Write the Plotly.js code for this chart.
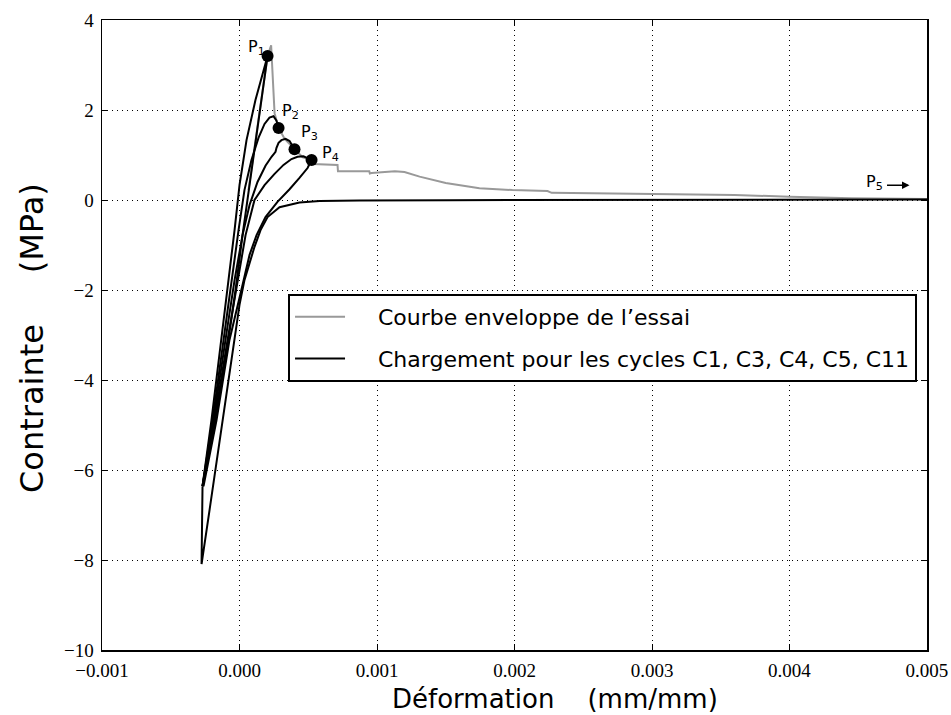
<!DOCTYPE html>
<html>
<head>
<meta charset="utf-8">
<script src="https://cdn.plot.ly/plotly-3.0.1.min.js"></script>
<style>html,body{margin:0;padding:0;background:#fff;}#chart{width:951px;height:715px;}</style>
</head>
<body>
<div id="chart"></div>
<script>
// Envelope curve of the test (grey)
const envX = [0.000065, 0.000116, 0.000160, 0.000204, 0.000230, 0.000255, 0.000284, 0.000330, 0.000400, 0.000460, 0.000524, 0.000535, 0.000713, 0.000716, 0.000944, 0.000948, 0.000960, 0.001130, 0.001200, 0.001310, 0.001500, 0.001745, 0.001985, 0.002240, 0.002270, 0.002960, 0.003200, 0.003600, 0.004000, 0.004450, 0.005000];
const envY = [0.22, 1.33, 2.22, 3.20, 3.44, 1.93, 1.60, 1.35, 1.13, 0.95, 0.89, 0.80, 0.78, 0.64, 0.64, 0.59, 0.60, 0.64, 0.62, 0.52, 0.38, 0.26, 0.22, 0.20, 0.16, 0.14, 0.13, 0.11, 0.075, 0.04, 0.02];

// Loading curves (black)
const c1X = [0.000204, 0.000160, 0.000116, 0.000065, 0.000022, -0.000029, -0.000102, -0.000189, -0.000269, -0.000204, -0.000131, -0.000080, -0.000036, 0.000000, 0.000051, 0.000116, 0.000204];
const c1Y = [3.20, 2.22, 1.33, 0.22, -0.78, -2.00, -3.56, -5.11, -6.36, -4.89, -3.11, -1.78, -0.67, 0.33, 1.33, 2.22, 3.20];

const c3X = [-0.000269, -0.000196, -0.000116, -0.000058, -0.000007, 0.000036, 0.000087, 0.000138, 0.000182, 0.000218, 0.000247, 0.000269, 0.000284];
const c3Y = [-6.36, -4.89, -3.11, -1.78, -0.67, 0.22, 0.89, 1.38, 1.69, 1.83, 1.86, 1.76, 1.60];

const c4X = [-0.000269, -0.000189, -0.000102, -0.000036, 0.000022, 0.000073, 0.000131, 0.000189, 0.000233, 0.000262, 0.000269, 0.000284, 0.000305, 0.000335, 0.000364, 0.000385, 0.000400];
const c4Y = [-6.36, -4.89, -3.11, -1.78, -0.78, -0.11, 0.40, 0.76, 0.96, 1.07, 1.16, 1.27, 1.33, 1.36, 1.31, 1.22, 1.13];

const c5X = [-0.000269, -0.000182, -0.000087, -0.000015, 0.000044, 0.000109, 0.000182, 0.000255, 0.000320, 0.000378, 0.000422, 0.000465, 0.000502, 0.000524, null,
             0.000524, 0.000495, 0.000436, 0.000364, 0.000276, 0.000189, 0.000124, 0.000073, 0.000022, -0.000073, -0.000167, -0.000262];
const c5Y = [-6.36, -4.89, -3.11, -1.78, -0.78, 0.00, 0.33, 0.58, 0.78, 0.91, 0.96, 0.97, 0.93, 0.89, null,
             0.89, 0.71, 0.49, 0.24, -0.04, -0.38, -0.78, -1.22, -1.89, -3.11, -4.89, -6.36];

const c11X = [-0.000269, -0.000276, -0.000218, -0.000160, -0.000102, -0.000044, 0.000000, 0.000036, 0.000073, 0.000109, 0.000153, 0.000204, 0.000291, 0.000436, 0.000582, 0.000873, 0.001527, 0.002980, 0.004070, 0.005000];
const c11Y = [-6.36, -8.09, -6.89, -5.67, -4.44, -3.22, -2.33, -1.78, -1.38, -1.04, -0.67, -0.38, -0.16, -0.056, -0.022, -0.009, -0.004, 0.0, 0.007, 0.011];

// Characteristic points P1..P4
const pX = [0.000204, 0.000284, 0.000400, 0.000524];
const pY = [3.20, 1.60, 1.13, 0.89];
const pLabels = ["P<sub>1</sub>", "P<sub>2</sub>", "P<sub>3</sub>", "P<sub>4</sub>", "P<sub>5</sub>"];
const pLabelX = [0.000124, 0.000368, 0.000506, 0.000660, 0.004618];
const pLabelY = [3.38, 1.96, 1.49, 1.04, 0.38];

// Axes ticks
const xTickVals = [-0.001, 0.000, 0.001, 0.002, 0.003, 0.004, 0.005];
const xTickText = ["\u22120.001", "0.000", "0.001", "0.002", "0.003", "0.004", "0.005"];
const yTickVals = [-10, -8, -6, -4, -2, 0, 2, 4];
const yTickText = ["\u221210", "\u22128", "\u22126", "\u22124", "\u22122", "0", "2", "4"];

const sp = "\u00a0\u00a0\u00a0\u00a0";
const blackLine = {color: "#000000", width: 2};
const traces = [
  {x: envX, y: envY, type: "scatter", mode: "lines", name: sp + "Courbe enveloppe de l\u2019essai",
   line: {color: "#999999", width: 2}},
  {x: c1X, y: c1Y, type: "scatter", mode: "lines", name: sp + "Chargement pour les cycles C1, C3, C4, C5, C11",
   line: blackLine, legendgroup: "c"},
  {x: c3X, y: c3Y, type: "scatter", mode: "lines", showlegend: false, line: blackLine, legendgroup: "c"},
  {x: c4X, y: c4Y, type: "scatter", mode: "lines", showlegend: false, line: blackLine, legendgroup: "c"},
  {x: c5X, y: c5Y, type: "scatter", mode: "lines", showlegend: false, line: blackLine, legendgroup: "c", connectgaps: false},
  {x: c11X, y: c11Y, type: "scatter", mode: "lines", showlegend: false, line: blackLine, legendgroup: "c"},
  {x: pX, y: pY, type: "scatter", mode: "markers", showlegend: false,
   marker: {color: "#000000", size: 12}}
];

const annotations = pLabels.map((t, i) => ({
  x: pLabelX[i], y: pLabelY[i], xref: "x", yref: "y", text: t, showarrow: false,
  xanchor: "center", yanchor: "middle",
  font: {family: "DejaVu Sans, sans-serif", size: 16, color: "#000"}
}));
annotations.push({
  x: 0.004873, y: 0.33, xref: "x", yref: "y", ax: -24, ay: 0, text: "",
  showarrow: true, arrowhead: 2, arrowsize: 1, arrowwidth: 1.5, arrowcolor: "#000"
});
annotations.push({
  x: 0.549, y: -0.077, xref: "paper", yref: "paper", xanchor: "center", yanchor: "middle",
  text: "D\u00e9formation\u00a0\u00a0\u00a0\u00a0(mm/mm)", showarrow: false,
  font: {family: "DejaVu Sans, sans-serif", size: 26, color: "#000"}
});
annotations.push({
  x: -0.085, y: 0.495, xref: "paper", yref: "paper", xanchor: "center", yanchor: "middle",
  text: "Contrainte\u00a0\u00a0\u00a0\u00a0\u00a0(MPa)", showarrow: false, textangle: -90,
  font: {family: "DejaVu Sans, sans-serif", size: 32, color: "#000"}
});

const axisCommon = {
  showline: true, linecolor: "#000", linewidth: 1.5, mirror: "allticks",
  ticks: "inside", ticklen: 6, tickwidth: 1, tickcolor: "#000",
  showgrid: true, gridcolor: "#000", gridwidth: 1, griddash: "1px,4px",
  zeroline: false, ticklabelstandoff: 3, ticklabeloverflow: "allow",
  tickfont: {family: "Liberation Serif, DejaVu Serif, serif", size: 19, color: "#000"}
};

const layout = {
  width: 951, height: 715,
  margin: {l: 102, r: 24, t: 20, b: 65},
  paper_bgcolor: "#fff", plot_bgcolor: "#fff",
  showlegend: true,
  legend: {
    x: 0.2255, y: 0.565, xanchor: "left", yanchor: "top",
    bordercolor: "#000", borderwidth: 2, bgcolor: "#fff",
    font: {family: "DejaVu Sans, sans-serif", size: 22, color: "#000"},
    itemwidth: 50
  },
  xaxis: Object.assign({}, axisCommon, {
    range: [-0.0010001, 0.0050001], tickvals: xTickVals, ticktext: xTickText
  }),
  yaxis: Object.assign({}, axisCommon, {
    range: [-10, 4], tickvals: yTickVals, ticktext: yTickText
  }),
  annotations: annotations
};

Plotly.newPlot("chart", traces, layout, {displayModeBar: false, staticPlot: true});
</script>
</body>
</html>
